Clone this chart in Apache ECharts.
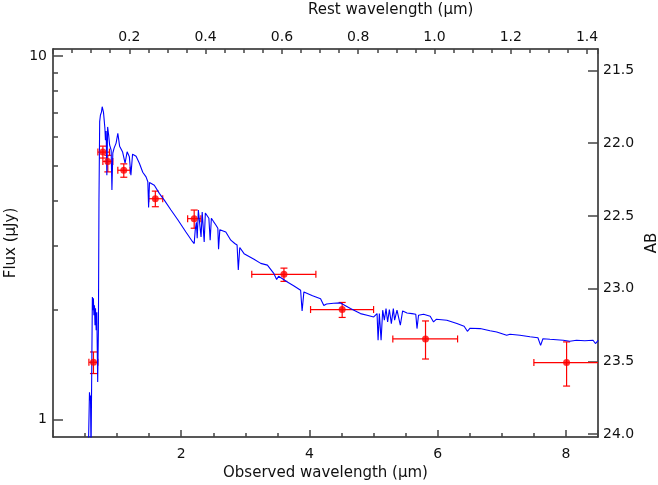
<!DOCTYPE html>
<html>
<head>
<meta charset="utf-8">
<script src="https://cdn.jsdelivr.net/npm/echarts@6/dist/echarts.min.js"></script>
<style>
  html, body { margin: 0; padding: 0; background: #fff; }
  #chart { width: 658px; height: 485px; }
</style>
</head>
<body>
<div id="chart"></div>
<script>
// model spectrum: observed wavelength (um) and flux (uJy)
const specX = [0.55, 0.569, 0.577, 0.585, 0.593, 0.605, 0.614, 0.622, 0.630, 0.638,
  0.647, 0.655, 0.663, 0.673, 0.683, 0.697, 0.708, 0.717, 0.728, 0.740,
  0.756, 0.767, 0.778, 0.787, 0.798, 0.809, 0.818, 0.829, 0.840, 0.852,
  0.868, 0.883, 0.907, 0.919, 0.933, 0.953, 0.984, 1.011, 1.039, 1.086,
  1.124, 1.156, 1.191, 1.215, 1.241, 1.296, 1.347, 1.400, 1.451, 1.479,
  1.491, 1.505, 1.580, 1.658, 1.736, 1.840, 1.949, 2.073, 2.174, 2.202,
  2.218, 2.236, 2.249, 2.267, 2.295, 2.309, 2.327, 2.358, 2.376, 2.400,
  2.431, 2.451, 2.470, 2.501, 2.540, 2.571, 2.582, 2.602, 2.695, 2.773,
  2.835, 2.871, 2.890, 2.913, 2.980, 3.135, 3.240, 3.344, 3.446, 3.488,
  3.519, 3.655, 3.753, 3.862, 3.885, 3.913, 4.048, 4.173, 4.224, 4.266,
  4.375, 4.484, 4.639, 4.795, 4.899, 5.002, 5.054, 5.070, 5.090, 5.117,
  5.142, 5.168, 5.194, 5.219, 5.246, 5.277, 5.308, 5.328, 5.365, 5.417,
  5.453, 5.521, 5.599, 5.658, 5.677, 5.701, 5.779, 5.883, 5.935, 5.977,
  6.143, 6.299, 6.412, 6.463, 6.505, 6.661, 6.816, 6.921, 7.076, 7.128,
  7.283, 7.439, 7.563, 7.605, 7.641, 7.750, 7.956, 8.061, 8.165, 8.294,
  8.423, 8.460, 8.504];
const specY = [0.8, 1.19, 1.13, 1.166, 0.8, 0.8, 2.175, 2.0, 2.157, 1.937,
  2.064, 1.818, 2.025, 1.761, 1.974, 1.269, 1.761, 4.015, 6.596, 6.88,
  7.01, 7.25, 7.18, 7.01, 6.67, 6.34, 5.87, 6.22, 4.70, 6.38,
  6.06, 5.69, 5.51, 4.28, 5.41, 5.58, 5.76, 6.13, 5.65, 5.44,
  5.07, 5.45, 5.28, 4.70, 5.37, 5.30, 5.07, 4.79, 4.65, 4.51,
  3.83, 4.49, 4.41, 4.19, 4.015, 3.77, 3.54, 3.28, 3.09, 3.05,
  3.32, 3.49, 3.155, 3.77, 3.81, 3.18, 3.72, 3.08, 3.70, 3.73,
  3.58, 3.115, 3.58, 3.51, 3.43, 3.36, 2.94, 3.33, 3.28, 3.115,
  3.05, 3.02, 2.58, 2.975, 2.86, 2.76, 2.69, 2.66, 2.52, 2.43,
  2.48, 2.39, 2.335, 2.27, 1.99, 2.245, 2.19, 2.15, 2.06, 2.08,
  2.09, 2.094, 2.02, 1.957, 1.937, 1.916, 1.957, 1.653, 1.957, 1.653,
  2.0, 1.877, 2.02, 1.856, 2.008, 1.837, 2.02, 1.877, 2.0, 1.818,
  1.99, 1.965, 1.957, 1.949, 1.78, 1.937, 1.949, 1.925, 1.856, 1.888,
  1.877, 1.837, 1.806, 1.75, 1.784, 1.78, 1.756, 1.742, 1.706, 1.717,
  1.706, 1.69, 1.68, 1.60, 1.669, 1.663, 1.653, 1.643, 1.653, 1.648,
  1.653, 1.619, 1.653];

// photometry with error bars
const photX   = [0.631, 0.778, 0.855, 1.104, 1.596, 2.202, 3.602, 4.51, 5.81, 8.01];
const photXLo = [0.560, 0.700, 0.778, 1.011, 1.493, 2.100, 3.10, 4.017, 5.30, 7.50];
const photXHi = [0.700, 0.880, 0.933, 1.202, 1.711, 2.306, 4.10, 5.00, 6.31, 8.52];
const photY   = [1.438, 5.44, 5.13, 4.85, 4.05, 3.57, 2.51, 2.008, 1.667, 1.435];
const photYLo = [1.339, 5.24, 4.80, 4.64, 3.85, 3.36, 2.40, 1.91, 1.468, 1.237];
const photYHi = [1.535, 5.65, 5.33, 5.05, 4.25, 3.77, 2.61, 2.10, 1.868, 1.636];

const fluxTicks = [1, 10];
const fluxMinorTicks = [2, 3, 4, 5, 6, 7, 8, 9];
const abTicks = [21.5, 22.0, 22.5, 23.0, 23.5, 24.0];

const redshift = 4.95;
const xMin = 0, xMax = 8.5;
const yMin = 0.896, yMax = 10.45;
const abZero = 23.9;

const font = 'DejaVu Sans';
const txt = '#111';
const lineCol = '#222';

const chart = echarts.init(document.getElementById('chart'));

const errData = photX.map((x, i) => [x, photY[i], photXLo[i], photXHi[i], photYLo[i], photYHi[i]]);

function renderErr(params, api) {
  const c = api.coord([api.value(0), api.value(1)]);
  const l = api.coord([api.value(2), api.value(1)]);
  const r = api.coord([api.value(3), api.value(1)]);
  const lo = api.coord([api.value(0), api.value(4)]);
  const hi = api.coord([api.value(0), api.value(5)]);
  const cap = 3.5;
  const style = { stroke: '#ff0000', lineWidth: 1.2 };
  const seg = (x1, y1, x2, y2) => ({ type: 'line', shape: { x1, y1, x2, y2 }, style });
  return {
    type: 'group',
    children: [
      seg(l[0], c[1], r[0], c[1]),
      seg(l[0], c[1] - cap, l[0], c[1] + cap),
      seg(r[0], c[1] - cap, r[0], c[1] + cap),
      seg(c[0], hi[1], c[0], lo[1]),
      seg(c[0] - cap, hi[1], c[0] + cap, hi[1]),
      seg(c[0] - cap, lo[1], c[0] + cap, lo[1])
    ]
  };
}

function tickLine() {
  return { color: '#444', width: 1.5 };
}

const option = {
  animation: false,
  title: {
    text: 'Rest wavelength (\u03bcm)',
    left: 308, top: 3, padding: 0,
    textStyle: { fontFamily: font, fontSize: 15, fontWeight: 'normal', color: txt }
  },
  grid: { left: 53, right: 60, top: 49, bottom: 48, outerBoundsMode: 'none' },
  xAxis: [
    {
      type: 'value', position: 'bottom', min: xMin, max: xMax, interval: 2,
      name: 'Observed wavelength (\u03bcm)', nameLocation: 'middle', nameGap: 28,
      nameTextStyle: { fontFamily: font, fontSize: 15, color: txt },
      axisLine: { show: true, onZero: false, lineStyle: { color: lineCol, width: 1.5 } },
      axisTick: { show: true, inside: true, length: 7, lineStyle: tickLine() },
      minorTick: { show: true, splitNumber: 4, length: 4, lineStyle: tickLine() },
      axisLabel: {
        margin: 10, fontFamily: font, fontSize: 14, color: txt,
        formatter: v => (v > 0 && v % 2 === 0) ? String(v) : ''
      },
      splitLine: { show: false }
    },
    {
      type: 'value', position: 'top', min: xMin / (1 + redshift), max: xMax / (1 + redshift), interval: 0.2,
      axisLine: { show: true, onZero: false, lineStyle: { color: lineCol, width: 1.5 } },
      axisTick: { show: true, inside: true, length: 5, lineStyle: tickLine() },
      minorTick: { show: true, splitNumber: 4, length: 4, lineStyle: tickLine() },
      axisLabel: {
        margin: 5, fontFamily: font, fontSize: 14, color: txt,
        formatter: v => {
          const k = Math.round(v / 0.2);
          return (k > 0 && Math.abs(v - k * 0.2) < 1e-6) ? v.toFixed(1) : '';
        }
      },
      splitLine: { show: false }
    }
  ],
  yAxis: [
    {
      type: 'log', position: 'left', min: yMin, max: yMax,
      name: 'Flux (\u03bcJy)', nameLocation: 'middle', nameGap: 28,
      nameTextStyle: { fontFamily: font, fontSize: 15, color: txt },
      axisLine: { show: true, onZero: false, lineStyle: { color: lineCol, width: 1.5 } },
      axisTick: { show: true, inside: true, length: 10, customValues: fluxTicks, lineStyle: tickLine() },
      axisLabel: { margin: 6, fontFamily: font, fontSize: 14, color: txt, customValues: fluxTicks },
      splitLine: { show: false }
    },
    {
      type: 'value', position: 'right', inverse: true,
      min: abZero - 2.5 * Math.log10(yMax), max: abZero - 2.5 * Math.log10(yMin),
      name: 'AB', nameLocation: 'middle', nameGap: 30, nameRotate: 90,
      nameTextStyle: { fontFamily: font, fontSize: 15, color: txt },
      axisLine: { show: true, onZero: false, lineStyle: { color: lineCol, width: 1.5 } },
      axisTick: { show: true, inside: true, length: 10, customValues: abTicks, lineStyle: tickLine() },
      axisLabel: {
        margin: 5, fontFamily: font, fontSize: 14, color: txt, customValues: abTicks,
        formatter: v => v.toFixed(1)
      },
      splitLine: { show: false }
    },
    {
      type: 'log', position: 'left', min: yMin, max: yMax,
      axisLine: { show: false, onZero: false },
      axisTick: { show: true, inside: true, length: 5, customValues: fluxMinorTicks, lineStyle: tickLine() },
      axisLabel: { show: false },
      splitLine: { show: false }
    }
  ],
  series: [
    {
      type: 'line', xAxisIndex: 0, yAxisIndex: 0,
      data: specX.map((x, i) => [x, specY[i]]),
      showSymbol: false, clip: true,
      lineStyle: { color: '#0000ff', width: 1.1 }
    },
    {
      type: 'custom', xAxisIndex: 0, yAxisIndex: 0,
      data: errData, renderItem: renderErr, clip: true, z: 3
    },
    {
      type: 'scatter', xAxisIndex: 0, yAxisIndex: 0,
      data: photX.map((x, i) => [x, photY[i]]),
      symbol: 'circle', symbolSize: 7, clip: true, z: 4,
      itemStyle: { color: '#ff0000' }
    }
  ]
};

chart.setOption(option);
</script>
</body>
</html>
